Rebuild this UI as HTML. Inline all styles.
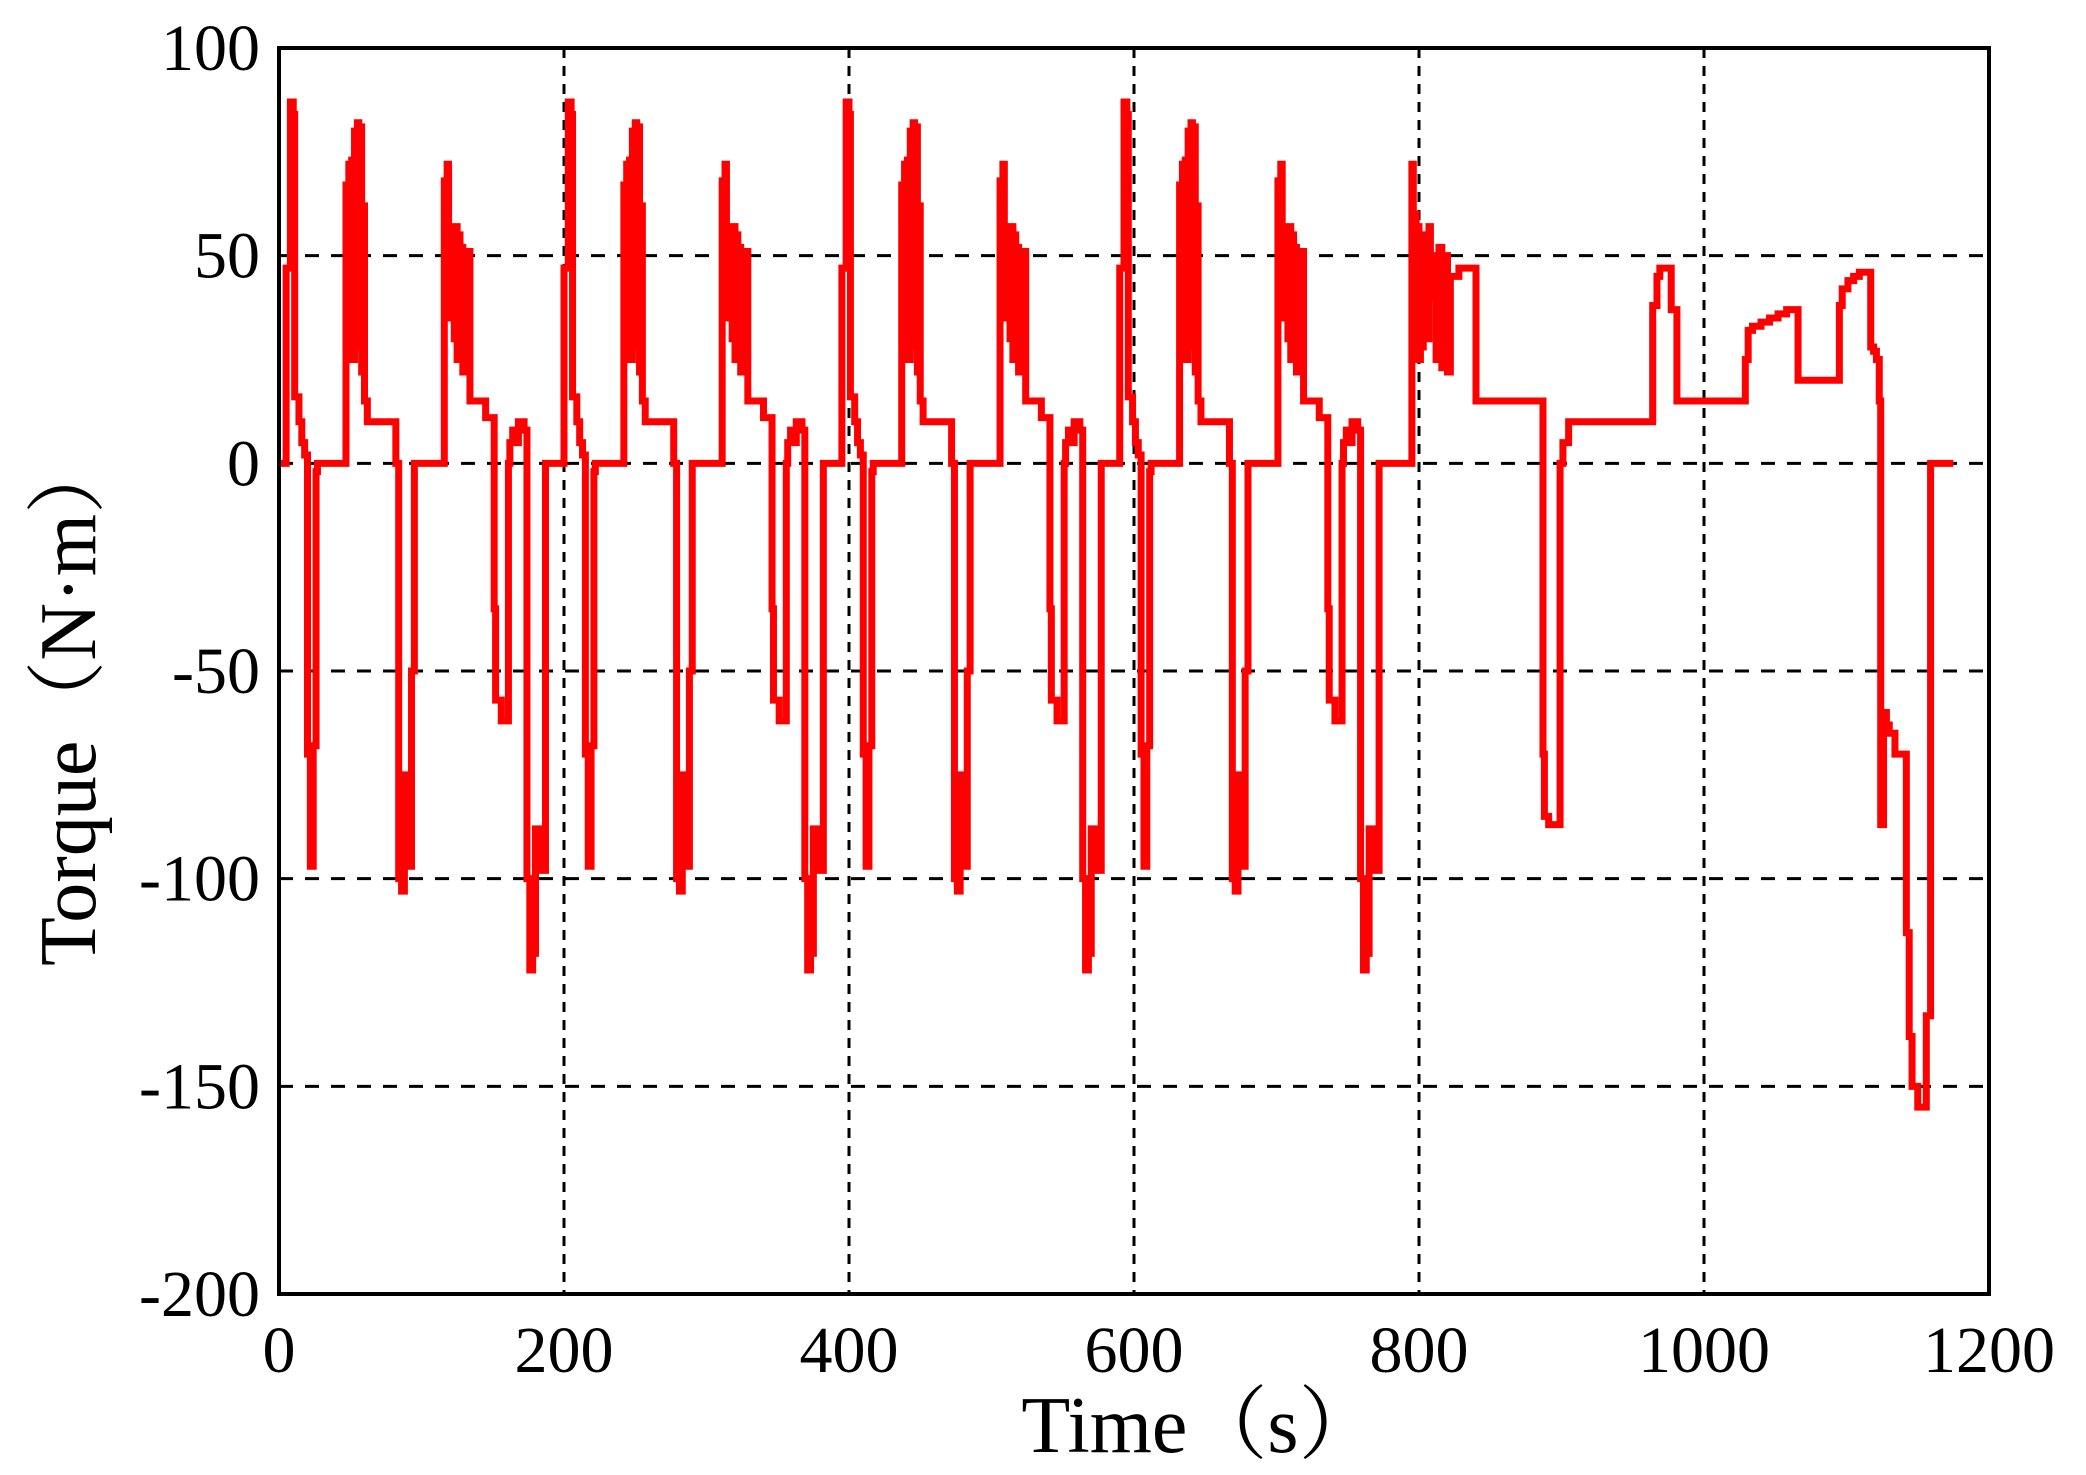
<!DOCTYPE html>
<html><head><meta charset="utf-8"><style>
html,body{margin:0;padding:0;background:#fff;}
svg{display:block;}
text{font-family:"Liberation Serif","Noto Serif CJK SC",serif;fill:#000;}
</style></head><body>
<svg id="chart" width="2086" height="1475" viewBox="0 0 2086 1475" xmlns="http://www.w3.org/2000/svg">
<g id="grid"></g>
<g id="series"></g>
<rect x="279" y="48" width="1710" height="1246" fill="none" stroke="#000" stroke-width="4"/>
<g id="xticks"></g>
<g id="yticks"></g>
<text x="1200" y="1452" font-size="80" text-anchor="middle">Time（s）</text>
<text x="0" y="0" font-size="80" text-anchor="middle" transform="translate(95,700) rotate(-90)">Torque（N·m）</text>
</svg>
<script>
const xTicks=[0,200,400,600,800,1000,1200];
const yTicks=[100,50,0,-50,-100,-150,-200];
const cycleStarts=[0,195,390,585];
const eceT=[0,5,7,8,10,11,13,14,16,18,20,22,24,26,27,46,47,48,49,50,51,52,53,54,55,56,57,58,59,60,62,80,82,84,86,88,90,93,95,116,117,118,119,120,121,122,123,124,125,126,127,128,129,130,131,132,134,136,140,145,151,152,156,161,162,164,166,168,172,174,176,178,180,184,187];
const eceV=[0,47,47,87,84,16,16,10,5,2,-70,-97,-68,-2,0,0,67,25,72,30,73,25,80,28,82,40,81,22,62,15,10,10,0,-100,-103,-75,-97,-50,0,68,40,72,35,56,48,57,30,57,25,55,45,52,22,50,40,51,15,15,15,11,-35,-57,-62,0,5,8,5,10,8,-100,-122,-118,-88,-98,0];
const eudcT=[780,795,796,797,798,799,800,801,802,803,804,805,806,807,808,810,812,814,816,818,820,822,825,828,832,836,840,886,887,888,891,894,897,899,901,905,963,964,967,969,977,979,981,1028,1029,1031,1034,1040,1046,1052,1058,1061,1066,1094,1095,1097,1101,1105,1109,1112,1117,1119,1121,1123,1124,1126,1128,1130,1134,1138,1142,1144,1146,1150,1154,1156,1159,1175];
const eudcV=[0,72,25,60,30,57,25,55,28,45,35,55,30,57,40,50,25,52,23,50,22,45,45,47,47,47,15,15,-70,-85,-87,-87,-87,0,5,10,10,38,45,47,37,37,15,15,25,32,33,34,35,36,37,37,20,20,38,42,44,45,46,46,28,27,25,15,-87,-60,-63,-65,-70,-70,-113,-138,-150,-155,-155,-133,0,0];
const X0=279,X1=1989,Y0=48,Y1=1294;
const xs=t=>X0+(t-0)/1200*(X1-X0);
const ys=v=>Y0+(100-v)/300*(Y1-Y0);
const NS='http://www.w3.org/2000/svg';
const grid=document.getElementById('grid');
xTicks.forEach(t=>{
 if(t>0&&t<1200){const l=document.createElementNS(NS,'line');
 
 
 l.setAttribute('x1',xs(t));l.setAttribute('x2',xs(t));l.setAttribute('y1',Y0);l.setAttribute('y2',Y1);
 l.setAttribute('stroke','#000');l.setAttribute('stroke-width','3');l.setAttribute('stroke-dasharray','10 8');grid.appendChild(l);}
 const tx=document.createElementNS(NS,'text');
 
 
 tx.setAttribute('x',xs(t));tx.setAttribute('y',1372);tx.setAttribute('font-size','66');tx.setAttribute('text-anchor','middle');
 tx.textContent=t;document.getElementById('xticks').appendChild(tx);
});
yTicks.forEach(v=>{
 if(v<100&&v>-200){const l=document.createElementNS(NS,'line');
 
 
 l.setAttribute('x1',X0);l.setAttribute('x2',X1);l.setAttribute('y1',ys(v));l.setAttribute('y2',ys(v));
 l.setAttribute('stroke','#000');l.setAttribute('stroke-width','3');l.setAttribute('stroke-dasharray','14 12');grid.appendChild(l);}
 const tx=document.createElementNS(NS,'text');
 
 
 tx.setAttribute('x',260);tx.setAttribute('y',ys(v)+22);tx.setAttribute('font-size','66');tx.setAttribute('text-anchor','end');
 tx.textContent=v;document.getElementById('yticks').appendChild(tx);
});
let T=[],V=[];
cycleStarts.forEach(s=>{eceT.forEach((t,i)=>{T.push(s+t);V.push(eceV[i]);});});
eudcT.forEach((t,i)=>{T.push(t);V.push(eudcV[i]);});
let d='M'+xs(T[0])+','+ys(V[0]);
for(let i=1;i<T.length;i++){d+=' H'+xs(T[i])+' V'+ys(V[i]);}
const p=document.createElementNS(NS,'path');


p.setAttribute('d',d);p.setAttribute('fill','none');p.setAttribute('stroke','#ff0000');p.setAttribute('stroke-width','7');
document.getElementById('series').appendChild(p);
</script>
</body></html>
